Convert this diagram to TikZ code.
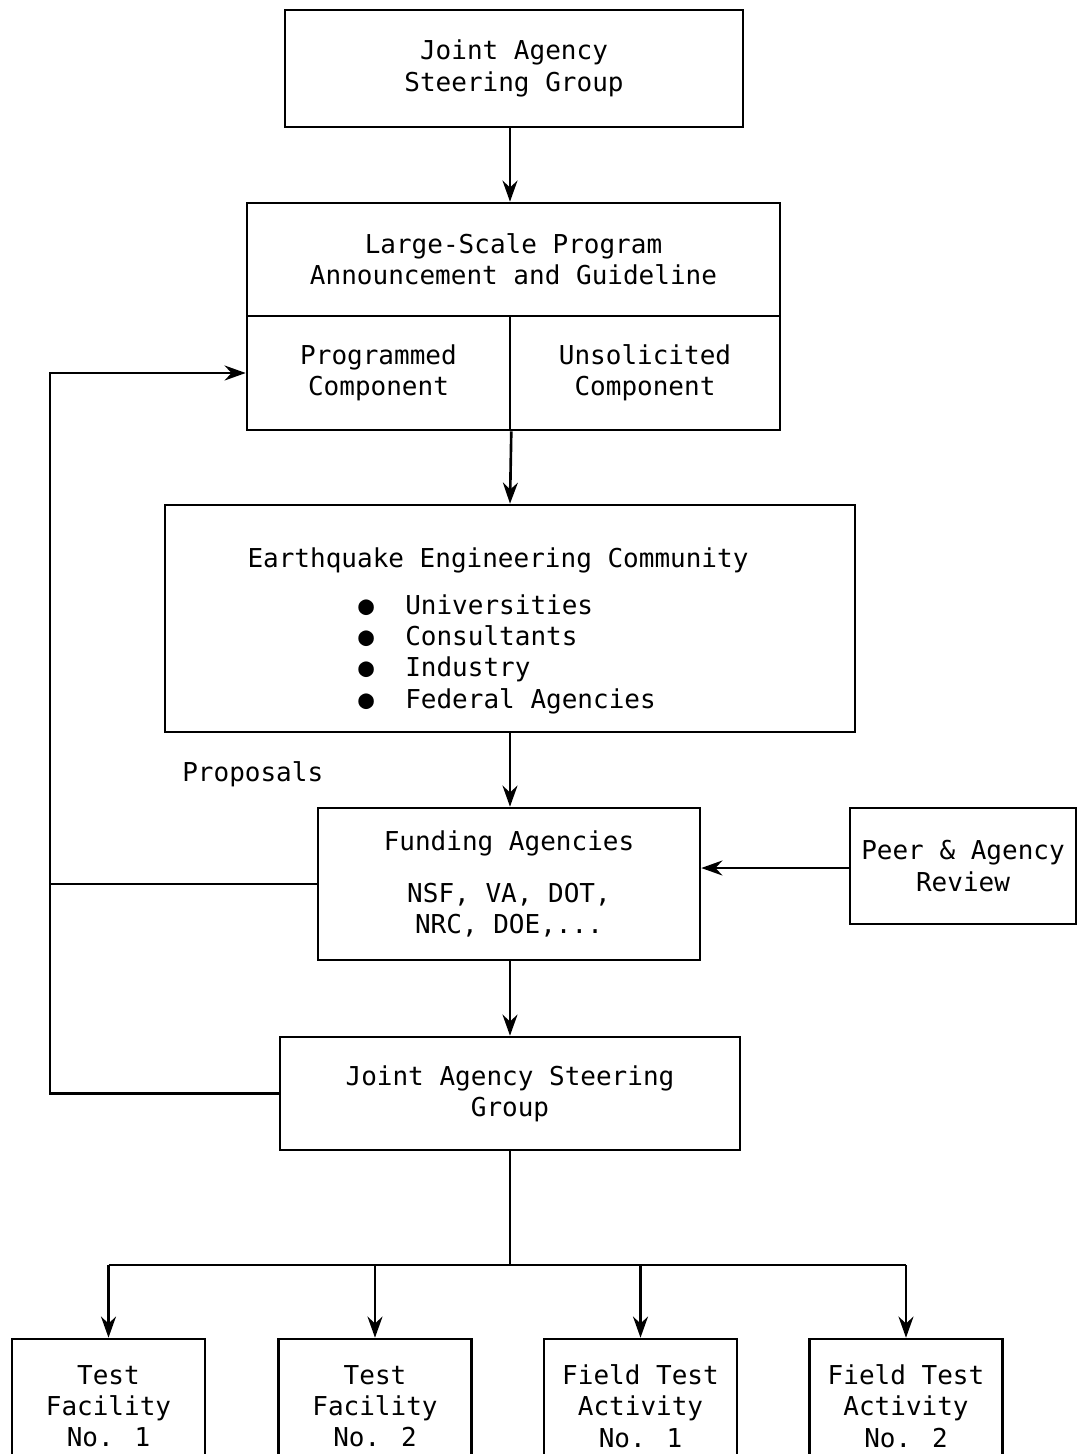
\documentclass[tikz,border=0pt]{standalone}
\usepackage{fontspec}
\setmainfont{DejaVu Sans Mono}
\usepackage{tikz}
\usetikzlibrary{arrows.meta, positioning, calc}

\begin{document}
\begin{tikzpicture}[x=0.02cm, y=-0.02cm, >={Stealth[length=12pt, width=8.5pt]},
          line width=1.5pt,
          font=\fontsize{14.8}{17.8}\selectfont,
          box/.style={draw, rectangle, align=center, inner sep=0pt}]
        \useasboundingbox (0,0) rectangle (1078,1454);
        \clip (0,0) rectangle (1078,1454);
        % top of the chain
        \node[box, minimum width=9.16cm, minimum height=2.34cm] (top) at (514,68.5)
              {Joint Agency\\Steering Group};
        \node[box, minimum width=10.66cm, minimum height=2.26cm] (lsp) at (513.5,259.5)
              {Large-Scale Program\\Announcement and Guideline};
        \node[box, minimum width=5.26cm, minimum height=2.28cm] (prog) at (378.5,373)
              {Programmed\\Component};
        \node[box, minimum width=5.4cm, minimum height=2.28cm] (unsol) at (645,373)
              {Unsolicited\\Component};
        % community
        \node[box, minimum width=13.8cm, minimum height=4.54cm] (eec) at (510,618.5) {};
        \node (eectitle) at (498,560) {Earthquake Engineering Community};
        \node[anchor=west, align=left, inner sep=0pt] (eeclist) at (357,654)
              {●\ \ Universities\\●\ \ Consultants\\●\ \ Industry\\●\ \ Federal Agencies};
        \node[anchor=west, inner sep=0pt] (prop) at (181,774) {Proposals};
        % funding and review
        \node[box, minimum width=7.64cm, minimum height=3.04cm] (fund) at (509,884)
              {Funding Agencies\\[0.42cm]NSF, VA, DOT,\\NRC, DOE,...};
        \node[box, minimum width=4.52cm, minimum height=2.32cm] (peer) at (963,866)
              {Peer \& Agency\\Review};
        \node[box, minimum width=9.2cm, minimum height=2.26cm] (jasg) at (510,1093.5)
              {Joint Agency Steering\\Group};
        % activities
        \foreach \i/\x/\t in {1/108.5/{Test\\Facility\\No. 1}, 2/375/{Test\\Facility\\No. 2},
                              3/640.5/{Field Test\\Activity\\No. 1}, 4/906/{Field Test\\Activity\\No. 2}}{
          \node[box, minimum width=3.86cm, minimum height=2.68cm] (act\i) at (\x,1406) {\t};
        }
        \coordinate (loop) at (50,884);
        \coordinate (bus) at (510,1265);
        % connectors
        \draw[->] (top.south -| eec) -- (lsp.north -| eec);
        \draw[->] (prog.south east) -- (eec.north);
        \draw[->] (eec.south) -- (eec.south |- fund.north);
        \draw[->] (peer.west |- 0,868) -- (fund.east |- 0,868);
        \draw[->] (fund.south -| eec) -- (jasg.north);
        \draw[->] (fund.west) -- (loop) |- (prog.west);
        \draw (jasg.west) -| (loop);
        \draw (jasg.south) -- (bus);
        \draw (act1.north |- bus) -- (act4.north |- bus);
        \foreach \i in {1,...,4}
          \draw[->] (act\i.north |- bus) -- (act\i.north);
      \end{tikzpicture}
\end{document}
